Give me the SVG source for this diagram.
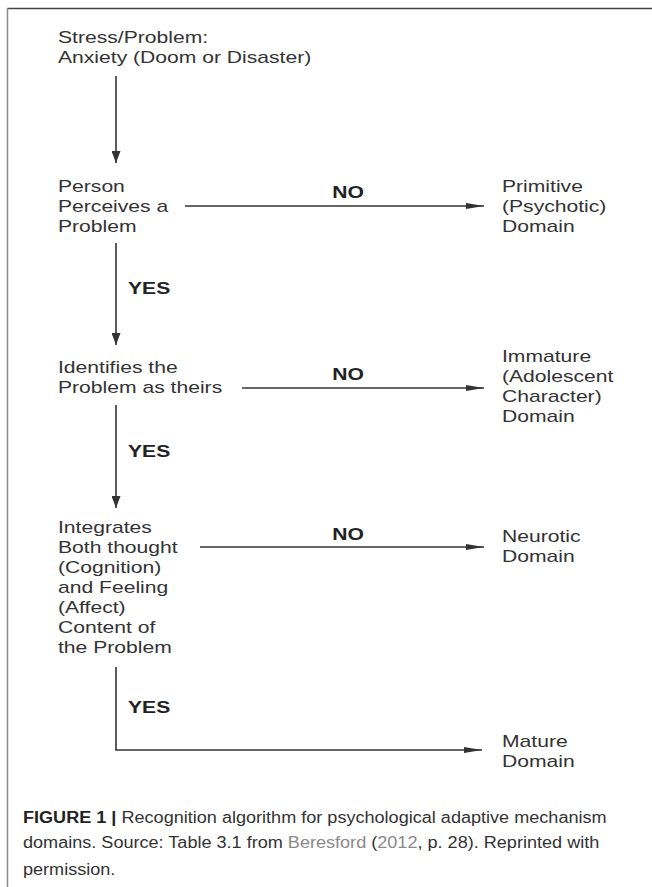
<svg xmlns="http://www.w3.org/2000/svg" width="652" height="887" viewBox="0 0 652 887">
<defs>
<style>
.t{font-family:"Liberation Sans",Arial,sans-serif;font-size:16px;fill:#333}
.b{font-family:"Liberation Sans",Arial,sans-serif;font-size:16px;font-weight:bold;fill:#222}
.c{font-family:"Liberation Sans",Arial,sans-serif;font-size:16px;fill:#333}
.ln{stroke:#333;stroke-width:1.6;fill:none}
</style>
<marker id="ah" viewBox="0 0 12 9" refX="12" refY="4.5" markerWidth="12" markerHeight="9" markerUnits="userSpaceOnUse" orient="auto">
<path d="M0,0 L12,4.5 L0,9 Z" fill="#333"/>
</marker>
<marker id="hh" viewBox="0 0 18 7" refX="18" refY="3.5" markerWidth="18" markerHeight="7" markerUnits="userSpaceOnUse" orient="auto">
<path d="M0,0.5 L18,3.5 L0,6.5 Z" fill="#333"/>
</marker>
</defs>
<rect width="652" height="887" fill="#fff"/>
<g id="frame">
<line x1="7.5" y1="8.5" x2="652" y2="8.5" stroke="#444" stroke-width="1.6"/>
<line x1="7.5" y1="8" x2="7.5" y2="887" stroke="#888" stroke-width="1.5"/>
</g>
<g id="connectors">
<line class="ln" x1="116" y1="76" x2="116" y2="163" marker-end="url(#ah)"/>
<line class="ln" x1="185" y1="206" x2="484" y2="206" marker-end="url(#hh)"/>
<line class="ln" x1="116" y1="243" x2="116" y2="345" marker-end="url(#ah)"/>
<line class="ln" x1="242" y1="388" x2="484" y2="388" marker-end="url(#hh)"/>
<line class="ln" x1="116" y1="405" x2="116" y2="508" marker-end="url(#ah)"/>
<line class="ln" x1="200" y1="547" x2="484" y2="547" marker-end="url(#hh)"/>
<path class="ln" d="M116,667 V750 H482" marker-end="url(#hh)"/>
<text class="b" transform="translate(348,198) scale(1.32,1)" text-anchor="middle">NO</text>
<text class="b" transform="translate(128,294) scale(1.32,1)">YES</text>
<text class="b" transform="translate(348,380) scale(1.32,1)" text-anchor="middle">NO</text>
<text class="b" transform="translate(128,457) scale(1.32,1)">YES</text>
<text class="b" transform="translate(348,540) scale(1.32,1)" text-anchor="middle">NO</text>
<text class="b" transform="translate(128,713) scale(1.32,1)">YES</text>
</g>
<g id="n1"><text class="t" transform="translate(58,43) scale(1.32,1)">Stress/Problem:</text><text class="t" transform="translate(58,63) scale(1.32,1)">Anxiety (Doom or Disaster)</text></g>
<g id="n2"><text class="t" transform="translate(58,192) scale(1.32,1)">Person</text><text class="t" transform="translate(58,212) scale(1.32,1)">Perceives a</text><text class="t" transform="translate(58,232) scale(1.32,1)">Problem</text></g>
<g id="n3"><text class="t" transform="translate(502,192) scale(1.32,1)">Primitive</text><text class="t" transform="translate(502,212) scale(1.32,1)">(Psychotic)</text><text class="t" transform="translate(502,232) scale(1.32,1)">Domain</text></g>
<g id="n4"><text class="t" transform="translate(58,373) scale(1.32,1)">Identifies the</text><text class="t" transform="translate(58,393) scale(1.32,1)">Problem as theirs</text></g>
<g id="n5"><text class="t" transform="translate(502,362) scale(1.32,1)">Immature</text><text class="t" transform="translate(502,382) scale(1.32,1)">(Adolescent</text><text class="t" transform="translate(502,402) scale(1.32,1)">Character)</text><text class="t" transform="translate(502,422) scale(1.32,1)">Domain</text></g>
<g id="n6"><text class="t" transform="translate(58,533) scale(1.32,1)">Integrates</text><text class="t" transform="translate(58,553) scale(1.32,1)">Both thought</text><text class="t" transform="translate(58,573) scale(1.32,1)">(Cognition)</text><text class="t" transform="translate(58,593) scale(1.32,1)">and Feeling</text><text class="t" transform="translate(58,613) scale(1.32,1)">(Affect)</text><text class="t" transform="translate(58,633) scale(1.32,1)">Content of</text><text class="t" transform="translate(58,653) scale(1.32,1)">the Problem</text></g>
<g id="n7"><text class="t" transform="translate(502,542) scale(1.32,1)">Neurotic</text><text class="t" transform="translate(502,562) scale(1.32,1)">Domain</text></g>
<g id="n8"><text class="t" transform="translate(502,747) scale(1.32,1)">Mature</text><text class="t" transform="translate(502,767) scale(1.32,1)">Domain</text></g>
<g id="caption">
<text class="c" transform="translate(23,823) scale(1.13,1)"><tspan font-weight="bold" fill="#222">FIGURE 1 | </tspan>Recognition algorithm for psychological adaptive mechanism</text>
<text class="c" transform="translate(23,848) scale(1.13,1)">domains. Source: Table 3.1 from <tspan fill="#8a8a8a">Beresford</tspan> (<tspan fill="#8a8a8a">2012</tspan>, p. 28). Reprinted with</text>
<text class="c" transform="translate(23,875) scale(1.13,1)">permission.</text>
</g>
</svg>
